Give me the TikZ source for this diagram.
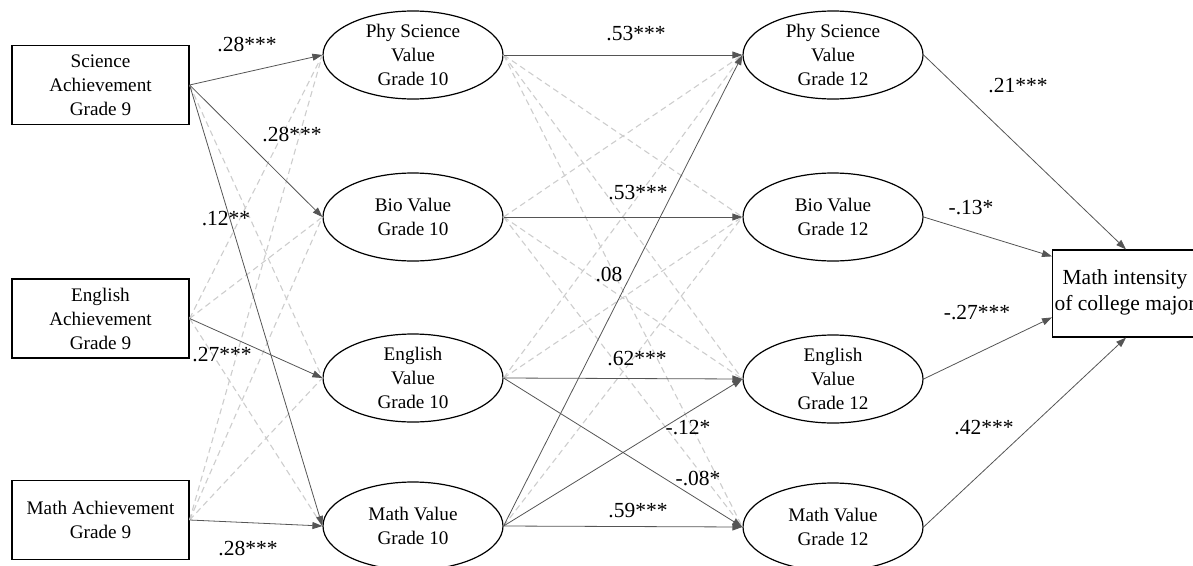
\documentclass[tikz,border=0pt]{standalone}
\usepackage{fontspec}
\setmainfont{Liberation Serif}
\usetikzlibrary{arrows.meta,positioning,shapes.geometric}
\definecolor{pathgray}{RGB}{85,85,85}
\definecolor{nsgray}{RGB}{205,205,205}

\tikzset{
  achbox/.style={draw, line width=1.2pt, minimum width=177pt, minimum height=79pt,
    align=center, inner sep=0pt, font=\fontsize{19.2}{24}\selectfont},
  valnode/.style={ellipse, draw, line width=1.2pt, minimum width=180pt, minimum height=88pt,
    align=center, inner sep=0pt, font=\fontsize{19.2}{24}\selectfont},
  sigpath/.style={draw=pathgray, line width=0.8pt, -{Triangle[length=10pt,width=7pt]}},
  nspath/.style={draw=nsgray, line width=1.1pt, dash pattern=on 6pt off 4pt},
  coef/.style={font=\fontsize{21.5}{24}\selectfont, inner sep=0pt}
}

\begin{document}
\begin{tikzpicture}[x=1pt,y=-1pt]
\useasboundingbox (0,0) rectangle (1193,565);

% grade 9 achievement
\node[achbox] (sci9) at (100.5,85) {Science\\Achievement\\Grade 9};
\node[achbox] (eng9) at (100.5,318.5) {English\\Achievement\\Grade 9};
\node[achbox] (math9) at (100.5,520) {Math Achievement\\Grade 9};

% grade 10 values
\node[valnode] (phy10) at (413,55) {Phy Science\\Value\\Grade 10};
\node[valnode] (bio10) at (413,217) {Bio Value\\Grade 10};
\node[valnode] (eng10) at (413,378) {English\\Value\\Grade 10};
\node[valnode] (math10) at (413,526) {Math Value\\Grade 10};

% grade 12 values
\node[valnode] (phy12) at (833,55) {Phy Science\\Value\\Grade 12};
\node[valnode] (bio12) at (833,217) {Bio Value\\Grade 12};
\node[valnode] (eng12) at (833,379) {English\\Value\\Grade 12};
\node[valnode] (math12) at (833,527) {Math Value\\Grade 12};

% outcome (runs past the right edge)
\node[draw, line width=1.2pt, minimum width=170pt, minimum height=87pt, inner sep=0pt,
  anchor=west, font=\fontsize{21.5}{26}\selectfont] (major) at (1052,293.5) {};
\node[align=center, font=\fontsize{21.5}{26}\selectfont] (majortxt) at (1125,292)
  {Math intensity\\of college major};

% non-significant paths
\foreach \a/\b in {sci9/eng10,eng9/phy10,eng9/bio10,eng9/math10,math9/phy10,math9/bio10,math9/eng10,
  phy10/bio12,phy10/eng12,phy10/math12,bio10/phy12,bio10/eng12,bio10/math12,eng10/phy12,eng10/bio12,math10/bio12}
  \draw[nspath] (\a.east) -- (\b.west);

% significant paths
\foreach \a/\b in {sci9/phy10,sci9/bio10,sci9/math10,eng9/eng10,math9/math10,
  phy10/phy12,bio10/bio12,eng10/eng12,math10/math12,math10/phy12,math10/eng12,eng10/math12}
  \draw[sigpath] (\a.east) -- (\b.west);
\draw[sigpath] (phy12.east) -- ([xshift=74pt]major.north west);
\draw[sigpath] (bio12.east) -- ([yshift=-7pt]major.north west);
\draw[sigpath] (eng12.east) -- ([yshift=-68pt]major.north west);
\draw[sigpath] (math12.east) -- ([xshift=74pt]major.south west);

% coefficients
\node[coef] (c1) at (247,45) {.28***};
\node[coef] (c2) at (292,134) {.28***};
\node[coef] (c3) at (226,219) {.12**};
\node[coef] (c4) at (222,355) {.27***};
\node[coef] (c5) at (248,548) {.28***};
\node[coef] (c6) at (636,34) {.53***};
\node[coef] (c7) at (638,193) {.53***};
\node[coef] (c8) at (609,274) {.08};
\node[coef] (c9) at (637,359) {.62***};
\node[coef] (c10) at (688,428) {-.12*};
\node[coef] (c11) at (698,478) {-.08*};
\node[coef] (c12) at (638,511) {.59***};
\node[coef] (c13) at (1018,86) {.21***};
\node[coef] (c14) at (971,208) {-.13*};
\node[coef] (c15) at (977,313) {-.27***};
\node[coef] (c16) at (984,428) {.42***};
\end{tikzpicture}
\end{document}
